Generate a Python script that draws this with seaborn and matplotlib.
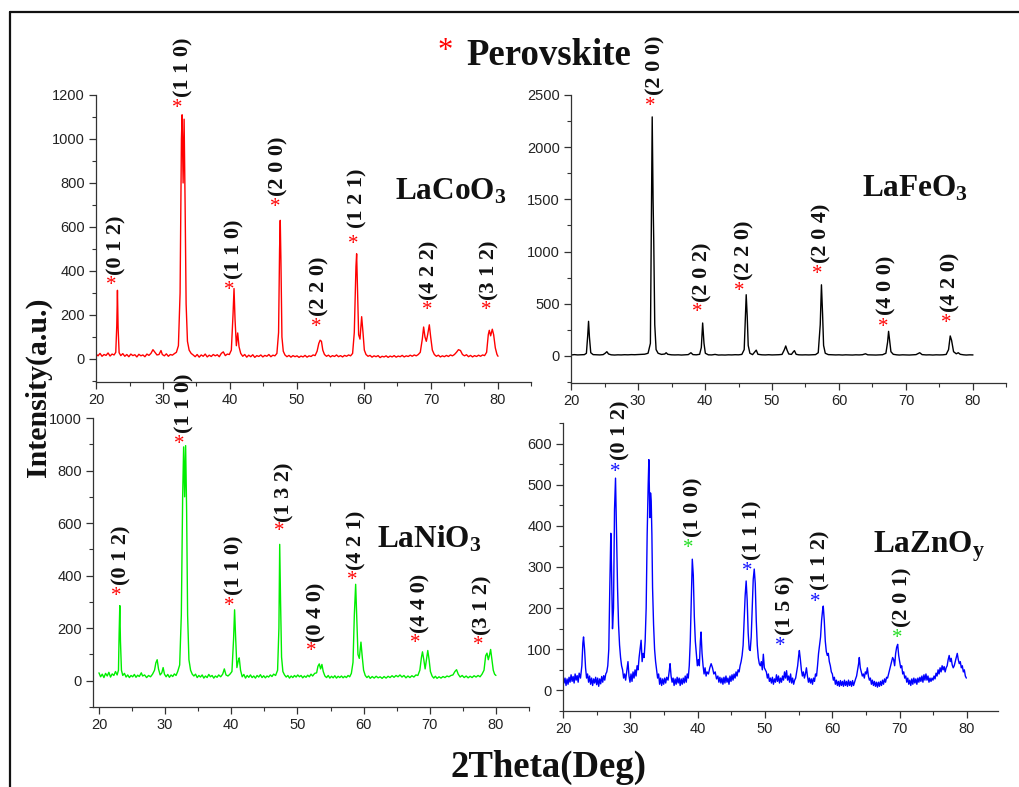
import matplotlib
matplotlib.use("Agg")
import matplotlib.pyplot as plt
import seaborn as sns
import pandas as pd
from matplotlib.ticker import MultipleLocator
from matplotlib.lines import Line2D

# ---------------- data (2theta, intensity) ----------------
lacoo3_scan = [
    (20.0, 22), (20.3, 14), (20.6, 25), (20.9, 12), (21.2, 20), (21.5, 16), (21.8, 27), (22.1, 13),
    (22.4, 22), (22.7, 18), (22.95, 30), (23.1, 150), (23.2, 312), (23.3, 140), (23.45, 28), (23.7, 15),
    (24.0, 24), (24.3, 12), (24.6, 20), (24.9, 10), (25.2, 22), (25.5, 15), (25.8, 19), (26.1, 9),
    (26.4, 21), (26.7, 14), (27.0, 18), (27.3, 10), (27.6, 22), (27.9, 16), (28.2, 25), (28.5, 42),
    (28.8, 30), (29.1, 18), (29.4, 20), (29.7, 38), (29.9, 20), (30.2, 14), (30.5, 23), (30.8, 12),
    (31.1, 20), (31.4, 17), (31.7, 24), (32.0, 30), (32.3, 60), (32.55, 300), (32.75, 1000), (32.85, 1110),
    (33.0, 800), (33.15, 1090), (33.3, 700), (33.45, 250), (33.65, 80), (33.9, 40), (34.2, 25), (34.5, 18),
    (34.8, 10), (35.1, 20), (35.4, 8), (35.7, 18), (36.0, 12), (36.3, 22), (36.6, 9), (36.9, 17),
    (37.2, 11), (37.5, 20), (37.8, 14), (38.1, 19), (38.4, 10), (38.7, 25), (39.0, 32), (39.3, 15),
    (39.6, 22), (39.9, 20), (40.2, 40), (40.45, 200), (40.6, 320), (40.75, 180), (40.95, 60), (41.15, 118),
    (41.35, 55), (41.6, 25), (41.9, 12), (42.2, 20), (42.5, 8), (42.8, 17), (43.1, 10), (43.4, 19),
    (43.7, 7), (44.0, 15), (44.3, 11), (44.6, 18), (44.9, 9), (45.2, 16), (45.5, 12), (45.8, 20),
    (46.1, 10), (46.4, 17), (46.7, 14), (47.0, 25), (47.25, 120), (47.4, 500), (47.5, 630), (47.6, 450),
    (47.75, 100), (47.95, 35), (48.2, 18), (48.5, 10), (48.8, 16), (49.1, 8), (49.4, 15), (49.7, 10),
    (50.0, 14), (50.3, 7), (50.6, 13), (50.9, 9), (51.2, 16), (51.5, 8), (51.8, 14), (52.1, 11),
    (52.4, 18), (52.7, 15), (53.0, 35), (53.25, 70), (53.45, 85), (53.65, 80), (53.85, 40), (54.1, 20),
    (54.4, 12), (54.7, 17), (55.0, 9), (55.3, 15), (55.6, 11), (55.9, 18), (56.2, 10), (56.5, 15),
    (56.8, 9), (57.1, 16), (57.4, 12), (57.7, 18), (58.0, 14), (58.3, 25), (58.55, 120), (58.8, 420),
    (58.9, 478), (59.05, 300), (59.2, 110), (59.4, 90), (59.65, 192), (59.85, 120), (60.05, 40), (60.3, 20),
    (60.6, 12), (60.9, 16), (61.2, 8), (61.5, 14), (61.8, 10), (62.1, 15), (62.4, 6), (62.7, 12),
    (63.0, 9), (63.3, 14), (63.6, 7), (63.9, 13), (64.2, 9), (64.5, 15), (64.8, 8), (65.1, 13),
    (65.4, 10), (65.7, 16), (66.0, 9), (66.3, 14), (66.6, 11), (66.9, 17), (67.2, 12), (67.5, 18),
    (67.8, 14), (68.1, 20), (68.4, 30), (68.7, 90), (68.9, 145), (69.1, 100), (69.3, 80), (69.5, 110),
    (69.75, 155), (69.95, 100), (70.2, 40), (70.5, 20), (70.8, 12), (71.1, 17), (71.4, 9), (71.7, 14),
    (72.0, 10), (72.3, 16), (72.6, 11), (72.9, 18), (73.2, 14), (73.5, 20), (73.8, 30), (74.1, 42),
    (74.4, 38), (74.7, 20), (75.0, 14), (75.3, 19), (75.6, 10), (75.9, 16), (76.2, 9), (76.5, 15),
    (76.8, 11), (77.1, 17), (77.4, 12), (77.7, 18), (78.0, 15), (78.3, 30), (78.55, 110), (78.7, 130),
    (78.9, 105), (79.15, 135), (79.35, 110), (79.6, 50), (79.85, 20), (80.0, 12),
]

lafeo3_scan = [
    (20.0, 8), (20.5, 12), (21.0, 9), (21.5, 11), (22.0, 12), (22.3, 25), (22.5, 200), (22.62, 331),
    (22.75, 180), (22.95, 30), (23.3, 12), (23.8, 10), (24.3, 9), (24.8, 12), (25.1, 25), (25.35, 40),
    (25.6, 18), (26.0, 10), (26.5, 8), (27.0, 10), (27.5, 9), (28.0, 11), (28.5, 10), (29.0, 12),
    (29.5, 11), (30.0, 13), (30.5, 14), (31.0, 16), (31.5, 25), (31.85, 120), (32.0, 1400), (32.12, 2290),
    (32.25, 1500), (32.35, 1100), (32.5, 300), (32.7, 60), (33.0, 25), (33.5, 14), (34.0, 18), (34.2, 30),
    (34.45, 15), (35.0, 10), (35.5, 9), (36.0, 10), (36.5, 8), (37.0, 10), (37.5, 12), (37.9, 30),
    (38.2, 12), (38.7, 10), (39.2, 15), (39.45, 80), (39.65, 315), (39.85, 120), (40.05, 25), (40.5, 10),
    (41.0, 9), (41.5, 14), (42.0, 8), (42.5, 9), (43.0, 8), (43.5, 10), (44.0, 9), (44.5, 11),
    (45.0, 10), (45.5, 14), (45.85, 60), (46.05, 400), (46.15, 586), (46.3, 380), (46.45, 100), (46.7, 25),
    (47.1, 12), (47.45, 40), (47.65, 55), (47.9, 15), (48.5, 10), (49.0, 9), (49.5, 11), (50.0, 9),
    (50.5, 10), (51.0, 11), (51.5, 14), (51.85, 60), (52.05, 95), (52.25, 55), (52.5, 18), (52.9, 14),
    (53.2, 40), (53.35, 50), (53.6, 15), (54.0, 10), (54.5, 9), (55.0, 10), (55.5, 9), (56.0, 11),
    (56.5, 12), (56.9, 30), (57.2, 300), (57.38, 681), (57.55, 400), (57.7, 100), (57.95, 25), (58.4, 12),
    (59.0, 10), (59.5, 9), (60.0, 10), (60.5, 8), (61.0, 10), (61.5, 9), (62.0, 8), (62.5, 10),
    (63.0, 9), (63.5, 11), (63.95, 20), (64.3, 10), (65.0, 9), (65.5, 8), (66.0, 10), (66.5, 11),
    (67.0, 25), (67.25, 130), (67.4, 235), (67.55, 150), (67.75, 40), (68.1, 15), (68.6, 10), (69.0, 8),
    (69.5, 10), (70.0, 9), (70.5, 8), (71.0, 10), (71.5, 12), (72.05, 30), (72.4, 12), (73.0, 9),
    (73.5, 10), (74.0, 8), (74.5, 10), (75.0, 9), (75.5, 10), (76.0, 14), (76.35, 60), (76.6, 191),
    (76.8, 150), (77.1, 40), (77.5, 20), (77.8, 30), (78.1, 15), (78.6, 10), (79.0, 8), (79.5, 10),
    (80.0, 9),
]

lanio3_scan = [
    (20.0, 30), (20.25, 15), (20.5, 25), (20.75, 12), (21.0, 28), (21.25, 18), (21.5, 32), (21.75, 14),
    (22.0, 26), (22.25, 20), (22.5, 35), (22.75, 22), (22.95, 40), (23.05, 180), (23.15, 286), (23.25, 150),
    (23.4, 40), (23.6, 20), (23.85, 28), (24.1, 14), (24.35, 22), (24.6, 12), (24.85, 20), (25.1, 15),
    (25.35, 24), (25.6, 13), (25.85, 21), (26.1, 16), (26.4, 30), (26.6, 18), (26.9, 22), (27.2, 12),
    (27.5, 20), (27.8, 15), (28.1, 25), (28.4, 40), (28.6, 68), (28.8, 80), (29.0, 45), (29.25, 22),
    (29.5, 30), (29.7, 50), (29.9, 25), (30.15, 15), (30.4, 24), (30.65, 13), (30.9, 22), (31.15, 16),
    (31.4, 26), (31.65, 20), (31.9, 35), (32.2, 60), (32.45, 250), (32.65, 700), (32.8, 890), (32.95, 700),
    (33.1, 895), (33.25, 650), (33.4, 250), (33.6, 80), (33.85, 40), (34.1, 25), (34.35, 18), (34.6, 25),
    (34.85, 12), (35.1, 20), (35.35, 14), (35.6, 22), (35.85, 10), (36.1, 18), (36.35, 12), (36.6, 24),
    (36.85, 15), (37.1, 20), (37.35, 10), (37.6, 18), (37.85, 13), (38.1, 22), (38.4, 15), (38.7, 25),
    (38.95, 45), (39.2, 22), (39.5, 18), (39.8, 25), (40.1, 35), (40.35, 160), (40.5, 270), (40.65, 170),
    (40.85, 50), (41.05, 75), (41.2, 87), (41.4, 40), (41.65, 15), (41.9, 24), (42.15, 10), (42.4, 20),
    (42.65, 13), (42.9, 22), (43.15, 12), (43.4, 18), (43.65, 10), (43.9, 20), (44.15, 14), (44.4, 23),
    (44.65, 12), (44.9, 19), (45.15, 11), (45.4, 18), (45.65, 14), (45.9, 22), (46.15, 16), (46.4, 25),
    (46.7, 20), (47.0, 40), (47.2, 200), (47.32, 519), (47.45, 300), (47.6, 90), (47.8, 35), (48.05, 22),
    (48.3, 14), (48.55, 20), (48.8, 10), (49.05, 18), (49.3, 12), (49.55, 20), (49.8, 14), (50.05, 22),
    (50.3, 15), (50.55, 20), (50.8, 11), (51.05, 18), (51.3, 13), (51.55, 21), (51.8, 15), (52.05, 25),
    (52.3, 18), (52.6, 28), (52.9, 30), (53.1, 55), (53.3, 64), (53.5, 45), (53.7, 62), (53.9, 35),
    (54.15, 18), (54.4, 12), (54.65, 20), (54.9, 10), (55.15, 17), (55.4, 11), (55.65, 19), (55.9, 10),
    (56.15, 17), (56.4, 12), (56.65, 18), (56.9, 11), (57.15, 17), (57.4, 12), (57.65, 20), (57.9, 15),
    (58.15, 28), (58.4, 70), (58.6, 250), (58.8, 367), (58.95, 250), (59.15, 100), (59.35, 85), (59.6, 147),
    (59.8, 90), (60.0, 40), (60.25, 20), (60.5, 12), (60.75, 18), (61.0, 9), (61.3, 16), (61.6, 10),
    (61.9, 17), (62.2, 11), (62.5, 15), (62.8, 9), (63.1, 16), (63.4, 10), (63.7, 17), (64.0, 12),
    (64.3, 19), (64.6, 13), (64.9, 20), (65.2, 15), (65.5, 22), (65.8, 14), (66.1, 20), (66.4, 11),
    (66.7, 18), (67.0, 12), (67.3, 19), (67.6, 14), (67.9, 22), (68.2, 20), (68.5, 40), (68.75, 90),
    (68.9, 110), (69.1, 80), (69.3, 45), (69.5, 80), (69.7, 115), (69.9, 80), (70.1, 35), (70.35, 18),
    (70.6, 10), (70.85, 17), (71.1, 9), (71.4, 15), (71.7, 10), (72.0, 16), (72.3, 12), (72.6, 18),
    (72.9, 15), (73.2, 20), (73.5, 22), (73.8, 35), (74.05, 42), (74.3, 25), (74.6, 14), (74.9, 20),
    (75.2, 12), (75.5, 18), (75.8, 11), (76.1, 17), (76.4, 12), (76.7, 19), (77.0, 14), (77.3, 20),
    (77.6, 15), (77.9, 25), (78.2, 40), (78.45, 95), (78.65, 105), (78.85, 80), (79.05, 100), (79.2, 119),
    (79.4, 80), (79.6, 40), (79.8, 25), (80.0, 20),
]

laznoy_scan = [
    (20.0, 35), (20.15, 18), (20.3, 30), (20.45, 12), (20.6, 28), (20.75, 15), (20.9, 32), (21.05, 20),
    (21.2, 38), (21.35, 22), (21.5, 34), (21.65, 18), (21.8, 40), (21.95, 25), (22.1, 36), (22.25, 20),
    (22.4, 42), (22.6, 30), (22.8, 60), (22.95, 115), (23.05, 130), (23.2, 100), (23.35, 55), (23.5, 30),
    (23.65, 40), (23.8, 20), (23.95, 35), (24.1, 15), (24.25, 30), (24.4, 12), (24.55, 28), (24.7, 18),
    (24.85, 32), (25.0, 14), (25.15, 30), (25.3, 10), (25.45, 28), (25.6, 16), (25.75, 34), (25.9, 20),
    (26.05, 36), (26.2, 25), (26.35, 40), (26.5, 45), (26.65, 60), (26.8, 100), (26.95, 250), (27.1, 382),
    (27.2, 300), (27.35, 150), (27.5, 200), (27.65, 440), (27.8, 516), (27.95, 380), (28.1, 250), (28.25, 160),
    (28.4, 110), (28.55, 80), (28.7, 60), (28.85, 50), (29.0, 30), (29.15, 40), (29.3, 25), (29.5, 50),
    (29.65, 70), (29.8, 35), (29.95, 20), (30.1, 40), (30.25, 22), (30.4, 45), (30.55, 30), (30.7, 50),
    (30.85, 35), (31.0, 60), (31.15, 50), (31.3, 80), (31.45, 100), (31.6, 122), (31.75, 70), (31.9, 90),
    (32.05, 80), (32.2, 120), (32.35, 200), (32.5, 380), (32.65, 500), (32.75, 561), (32.9, 420), (33.0, 480),
    (33.1, 460), (33.2, 380), (33.3, 250), (33.45, 160), (33.6, 100), (33.75, 70), (33.9, 50), (34.05, 30),
    (34.2, 40), (34.35, 15), (34.5, 30), (34.65, 12), (34.8, 28), (34.95, 15), (35.1, 30), (35.25, 18),
    (35.4, 32), (35.6, 25), (35.8, 50), (35.9, 65), (36.05, 35), (36.2, 20), (36.35, 30), (36.5, 12),
    (36.65, 28), (36.8, 15), (36.95, 32), (37.1, 18), (37.25, 30), (37.4, 12), (37.55, 28), (37.7, 15),
    (37.85, 30), (38.0, 18), (38.15, 35), (38.3, 20), (38.45, 40), (38.6, 30), (38.75, 60), (38.9, 120),
    (39.05, 220), (39.2, 319), (39.35, 280), (39.5, 180), (39.65, 120), (39.8, 90), (39.95, 60), (40.1, 75),
    (40.25, 60), (40.4, 120), (40.5, 142), (40.65, 90), (40.8, 60), (40.95, 40), (41.1, 55), (41.25, 35),
    (41.4, 45), (41.6, 40), (41.8, 55), (42.0, 65), (42.2, 55), (42.4, 40), (42.6, 45), (42.8, 28),
    (43.0, 35), (43.15, 20), (43.3, 32), (43.45, 18), (43.6, 30), (43.75, 15), (43.9, 32), (44.05, 18),
    (44.2, 35), (44.35, 20), (44.5, 30), (44.65, 15), (44.8, 35), (44.95, 22), (45.1, 38), (45.25, 25),
    (45.4, 40), (45.55, 30), (45.7, 45), (45.85, 35), (46.0, 50), (46.15, 45), (46.3, 60), (46.45, 70),
    (46.6, 85), (46.75, 110), (46.9, 170), (47.05, 230), (47.2, 266), (47.35, 220), (47.5, 140), (47.65, 100),
    (47.8, 97), (47.95, 130), (48.1, 200), (48.25, 270), (48.4, 295), (48.55, 260), (48.7, 170), (48.85, 110),
    (49.0, 80), (49.15, 65), (49.3, 60), (49.45, 70), (49.6, 50), (49.75, 88), (49.9, 55), (50.05, 50),
    (50.2, 45), (50.35, 30), (50.5, 40), (50.65, 22), (50.8, 30), (50.95, 18), (51.1, 32), (51.25, 15),
    (51.4, 28), (51.55, 20), (51.7, 38), (51.85, 22), (52.0, 35), (52.15, 18), (52.3, 30), (52.45, 20),
    (52.6, 35), (52.75, 25), (52.9, 45), (53.05, 30), (53.2, 48), (53.35, 25), (53.5, 35), (53.65, 20),
    (53.8, 40), (53.95, 18), (54.1, 30), (54.25, 15), (54.4, 25), (54.55, 30), (54.7, 45), (54.85, 60),
    (55.0, 85), (55.1, 97), (55.25, 75), (55.4, 50), (55.55, 35), (55.7, 45), (55.85, 30), (56.0, 40),
    (56.15, 55), (56.3, 35), (56.45, 20), (56.6, 30), (56.75, 18), (56.9, 28), (57.05, 15), (57.2, 30),
    (57.35, 22), (57.5, 40), (57.65, 35), (57.8, 60), (57.95, 90), (58.1, 110), (58.25, 130), (58.4, 170),
    (58.55, 195), (58.65, 205), (58.8, 170), (58.95, 120), (59.1, 95), (59.25, 85), (59.4, 90), (59.55, 70),
    (59.7, 60), (59.85, 45), (60.0, 40), (60.15, 25), (60.3, 32), (60.45, 15), (60.6, 25), (60.75, 12),
    (60.9, 22), (61.05, 10), (61.2, 24), (61.35, 12), (61.5, 22), (61.65, 10), (61.8, 25), (61.95, 12),
    (62.1, 22), (62.25, 10), (62.4, 25), (62.55, 12), (62.7, 22), (62.85, 10), (63.0, 24), (63.15, 12),
    (63.3, 20), (63.45, 28), (63.6, 35), (63.75, 50), (63.9, 65), (64.0, 80), (64.15, 55), (64.3, 45),
    (64.45, 35), (64.6, 40), (64.75, 30), (64.9, 45), (65.05, 40), (65.2, 55), (65.35, 35), (65.5, 25),
    (65.65, 30), (65.8, 15), (65.95, 25), (66.1, 12), (66.25, 22), (66.4, 10), (66.55, 20), (66.7, 8),
    (66.85, 20), (67.0, 10), (67.15, 22), (67.3, 12), (67.45, 25), (67.6, 15), (67.75, 28), (67.9, 20),
    (68.05, 32), (68.2, 30), (68.35, 40), (68.5, 50), (68.65, 60), (68.8, 70), (68.95, 80), (69.1, 75),
    (69.25, 60), (69.4, 90), (69.55, 105), (69.7, 112), (69.85, 85), (70.0, 70), (70.15, 55), (70.3, 60),
    (70.45, 40), (70.6, 45), (70.75, 30), (70.9, 35), (71.05, 20), (71.2, 30), (71.35, 15), (71.5, 25),
    (71.65, 12), (71.8, 28), (71.95, 15), (72.1, 30), (72.25, 18), (72.4, 28), (72.55, 15), (72.7, 30),
    (72.85, 20), (73.0, 32), (73.15, 22), (73.3, 35), (73.45, 20), (73.6, 38), (73.75, 25), (73.9, 40),
    (74.05, 25), (74.2, 35), (74.35, 20), (74.5, 30), (74.65, 22), (74.8, 30), (74.95, 25), (75.1, 35),
    (75.25, 28), (75.4, 42), (75.55, 35), (75.7, 50), (75.85, 40), (76.0, 55), (76.15, 45), (76.3, 60),
    (76.45, 50), (76.6, 58), (76.75, 45), (76.9, 55), (77.05, 60), (77.2, 75), (77.35, 85), (77.5, 70),
    (77.65, 78), (77.8, 62), (77.95, 55), (78.1, 60), (78.25, 70), (78.4, 80), (78.55, 90), (78.7, 75),
    (78.85, 65), (79.0, 70), (79.15, 55), (79.3, 60), (79.45, 45), (79.6, 50), (79.75, 35), (79.9, 30),
]

sample_names = [r"LaCoO$_\mathrm{3}$", r"LaFeO$_\mathrm{3}$", r"LaNiO$_\mathrm{3}$", r"LaZnO$_\mathrm{y}$"]
title_text = "Perovskite"
x_label = "2Theta(Deg)"
y_label = "Intensity(a.u.)"

# peak labels: (hkl, text x, text bottom y, star x, star y, star colour key)
lacoo3_peaks = [
    ("(0 1 2)", 23.13, 382, 22.24, 355, "r"), ("(1 1 0)", 32.99, 1191, 32.09, 1159, "r"),
    ("(1 1 0)", 40.6, 364, 39.85, 332, "r"), ("(2 0 0)", 47.31, 741, 46.72, 709, "r"),
    ("(2 2 0)", 53.43, 195, 52.84, 164, "r"), ("(1 2 1)", 58.96, 595, 58.36, 541, "r"),
    ("(4 2 2)", 69.7, 268, 69.4, 241, "r"), ("(3 1 2)", 78.8, 268, 78.2, 241, "r"),
]
lafeo3_peaks = [
    ("(2 0 0)", 32.54, 2500, 31.79, 2433, "r"), ("(2 0 2)", 39.55, 517, 38.8, 460, "r"),
    ("(2 2 0)", 45.82, 728, 45.07, 661, "r"), ("(2 0 4)", 57.46, 891, 56.72, 824, "r"),
    ("(4 0 0)", 67.16, 393, 66.57, 316, "r"), ("(4 2 0)", 76.57, 421, 75.97, 354, "r"),
]
lanio3_peaks = [
    ("(0 1 2)", 23.48, 365, 22.57, 338, "r"), ("(1 1 0)", 33.0, 943, 32.09, 916, "r"),
    ("(1 1 0)", 40.55, 327, 39.65, 300, "r"), ("(1 3 2)", 48.11, 604, 47.2, 585, "r"),
    ("(0 4 0)", 52.94, 148, 52.04, 129, "r"), ("(4 2 1)", 58.99, 422, 58.24, 399, "r"),
    ("(4 4 0)", 68.66, 182, 67.76, 160, "r"), ("(3 1 2)", 78.03, 175, 77.28, 152, "r"),
]
laznoy_peaks = [
    ("(0 1 2)", 28.47, 559, 27.72, 542, "b"), ("(1 0 0)", 39.31, 372, 38.57, 357, "g"),
    ("(1 1 1)", 48.07, 316, 47.33, 301, "b"), ("(1 5 6)", 52.97, 134, 52.23, 119, "b"),
    ("(1 1 2)", 58.17, 243, 57.43, 226, "b"), ("(2 0 1)", 70.35, 153, 69.6, 138, "g"),
]

# ---------------- style ----------------
sns.set_style("ticks")
plt.rcParams["font.family"] = ["Liberation Sans", "DejaVu Sans"]
plt.rcParams["mathtext.fontset"] = "custom"
plt.rcParams["mathtext.rm"] = "Liberation Serif:bold"
plt.rcParams["mathtext.it"] = "Liberation Serif:bold"
plt.rcParams["mathtext.bf"] = "Liberation Serif:bold"
SERIF = ["Liberation Serif", "DejaVu Serif"]
STAR = {"r": "#ff0000", "b": "#1010ff", "g": "#22dd22"}

W, H = 1020, 787
fig = plt.figure(figsize=(W / 100, H / 100), dpi=100)
fig.patch.set_facecolor("white")


def rect(l, t, r, b):
    return [l / W, 1 - b / H, (r - l) / W, (b - t) / H]


panels = [
    dict(scan=lacoo3_scan, peaks=lacoo3_peaks, color="#ff0000", rect=rect(96, 95, 531.5, 382),
         xlim=(20, 85), ylim=(-105, 1200), major=200, minor=100, name=sample_names[0], npos=(64.6, 723)),
    dict(scan=lafeo3_scan, peaks=lafeo3_peaks, color="#000000", rect=rect(571, 95, 1006.5, 383),
         xlim=(20, 85), ylim=(-260, 2500), major=500, minor=250, name=sample_names[1], npos=(63.4, 1523)),
    dict(scan=lanio3_scan, peaks=lanio3_peaks, color="#00ee00", rect=rect(93, 418, 529, 707),
         xlim=(19.1, 85), ylim=(-100, 1000), major=200, minor=100, name=sample_names[2], npos=(62.0, 506)),
    dict(scan=laznoy_scan, peaks=laznoy_peaks, color="#0000ff", rect=rect(563, 423, 998, 711),
         xlim=(20, 84.6), ylim=(-50, 650), major=100, minor=50, name=sample_names[3], npos=(66.0, 335)),
]

for p in panels:
    ax = fig.add_axes(p["rect"])
    ax.set_facecolor("none")
    df = pd.DataFrame(p["scan"], columns=["two_theta", "intensity"])
    sns.lineplot(data=df, x="two_theta", y="intensity", ax=ax, color=p["color"], linewidth=1.0,
                 estimator=None, sort=False, legend=False)
    ax.set_xlim(*p["xlim"])
    ax.set_ylim(*p["ylim"])
    ax.xaxis.set_major_locator(MultipleLocator(10))
    ax.xaxis.set_minor_locator(MultipleLocator(5))
    ax.yaxis.set_major_locator(MultipleLocator(p["major"]))
    ax.yaxis.set_minor_locator(MultipleLocator(p["minor"]))
    ax.set_xlabel("")
    ax.set_ylabel("")
    sns.despine(ax=ax)
    for s in ("left", "bottom"):
        ax.spines[s].set_color("#333333")
        ax.spines[s].set_linewidth(0.9)
    ax.tick_params(which="major", direction="out", length=5, width=0.9, color="#333333",
                   labelsize=10.5, labelcolor="#222222", pad=3)
    ax.tick_params(which="minor", direction="out", length=3, width=0.8, color="#333333")
    for lab, tx, ty, sx, sy, sc in p["peaks"]:
        ax.text(tx, ty, lab, rotation=90, ha="center", va="bottom", fontsize=16,
                fontweight="bold", family=SERIF, color="#111111", clip_on=False)
        ax.annotate("*", (sx, sy), xytext=(0, -0.45 * 15), textcoords="offset points",
                    ha="center", va="baseline", fontsize=15, family=SERIF, color=STAR[sc],
                    annotation_clip=False)
    ax.text(p["npos"][0], p["npos"][1], p["name"], ha="left", va="baseline", fontsize=22.5,
            fontweight="bold", family=SERIF, color="#111111")

# title, axis labels
fig.text(445 / W, 1 - 48 / H, "*", ha="center", va="center_baseline", fontsize=22,
         family=SERIF, color="#ff0000")
fig.text(466 / W, 1 - 65 / H, title_text, ha="left", va="baseline", fontsize=26.5,
         fontweight="bold", family=SERIF, color="#111111")
fig.text(549 / W, 1 - 777 / H, x_label, ha="center", va="baseline", fontsize=26.5,
         fontweight="bold", family=SERIF, color="#111111")
fig.text(38 / W, 1 - 387 / H, y_label, ha="center", va="center", rotation=90, fontsize=21.5,
         fontweight="bold", family=SERIF, color="#111111")

# outer frame (left and top edges)
fig.add_artist(Line2D([10 / W, 10 / W], [0, 1 - 12 / H], transform=fig.transFigure,
                      color="#111111", linewidth=1.6))
fig.add_artist(Line2D([10 / W, 1.0], [1 - 12 / H, 1 - 12 / H], transform=fig.transFigure,
                      color="#111111", linewidth=1.6))

fig.savefig("out.png", dpi=100)
